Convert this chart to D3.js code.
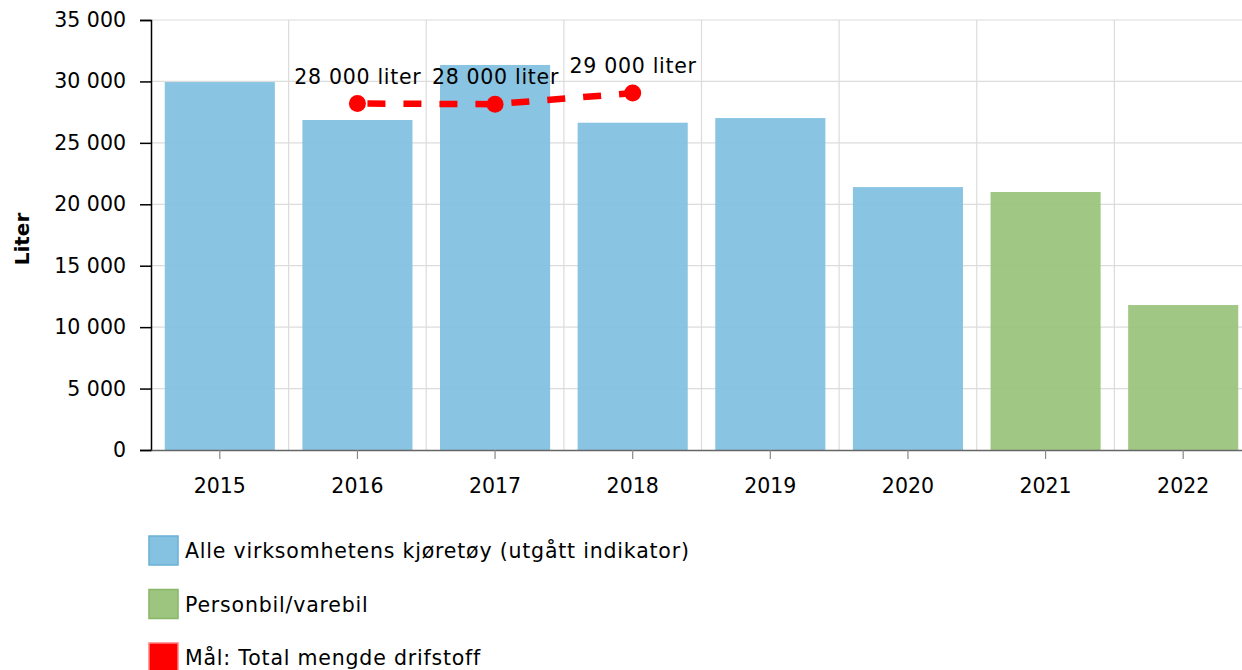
<!DOCTYPE html>
<html>
<head>
<meta charset="utf-8">
<script src="https://cdn.jsdelivr.net/npm/d3@7"></script>
<style>
  body { margin: 0; background: #fff; }
  svg { display: block; font-family: "DejaVu Sans", Verdana, sans-serif; }
</style>
</head>
<body>
<svg id="chart" width="1242" height="670"></svg>
<script>
const years = ['2015', '2016', '2017', '2018', '2019', '2020', '2021', '2022']
const allVehicles = [29950, 26860, 31340, 26640, 27020, 21400, null, null]
const carVan = [null, null, null, null, null, null, 21000, 11800]
const goalYears = ['2016', '2017', '2018']
const goalValues = [28200, 28150, 29050]
const yTicks = [0, 5000, 10000, 15000, 20000, 25000, 30000, 35000]

const legendItems = [
  { label: 'Alle virksomhetens kjøretøy (utgått indikator)', fill: '#85c2e1', stroke: '#6ab0d6' },
  { label: 'Personbil/varebil', fill: '#9dc57f', stroke: '#88b767' },
  { label: 'Mål: Total mengde drifstoff', fill: '#ff0000', stroke: '#ff8080' }
]

const svg = d3.select('#chart')
const plot = { left: 151, right: 1252, top: 20, bottom: 450 }

const x = d3.scaleBand().domain(years).range([plot.left, plot.right]).paddingInner(0.2).paddingOuter(0.1)
const y = d3.scaleLinear().domain([0, 35000]).range([plot.bottom, plot.top])
const fmt = (v) => d3.format(',')(v).replace(/,/g, ' ')

// grid
const grid = svg.append('g')
grid.selectAll('line.h').data(yTicks.filter((t) => t > 0)).join('line')
  .attr('x1', plot.left).attr('x2', 1242)
  .attr('y1', (d) => y(d)).attr('y2', (d) => y(d))
  .attr('stroke', '#dcdcdc').attr('stroke-width', 1.2)
grid.selectAll('line.v').data(years.slice(1)).join('line')
  .attr('x1', (d) => x(d) - x.step() * x.paddingInner() / 2)
  .attr('x2', (d) => x(d) - x.step() * x.paddingInner() / 2)
  .attr('y1', plot.top).attr('y2', plot.bottom)
  .attr('stroke', '#dcdcdc').attr('stroke-width', 1.2)

// bars
const drawBars = (values, color) => {
  svg.append('g').selectAll('rect')
    .data(years.map((yr, i) => ({ yr, v: values[i] })).filter((d) => d.v != null))
    .join('rect')
    .attr('x', (d) => x(d.yr))
    .attr('width', x.bandwidth())
    .attr('y', (d) => y(d.v))
    .attr('height', (d) => y(0) - y(d.v))
    .attr('fill', color)
    .attr('fill-opacity', 0.92)
}
drawBars(allVehicles, '#7fc0e0')
drawBars(carVan, '#99c279')

// y axis
const yAxis = svg.append('g')
  .attr('transform', `translate(${plot.left},0)`)
  .call(d3.axisLeft(y).tickValues(yTicks).tickFormat(fmt).tickSize(11).tickPadding(14))
yAxis.select('.domain').attr('stroke', '#000').attr('stroke-width', 1.5)
yAxis.selectAll('.tick line').attr('stroke', '#000').attr('stroke-width', 1.5)
yAxis.selectAll('text').attr('font-size', 20.5).attr('fill', '#000').attr('font-family', 'DejaVu Sans')

// x axis
const xAxis = svg.append('g')
  .attr('transform', `translate(0,${plot.bottom})`)
  .call(d3.axisBottom(x).tickSize(9).tickPadding(19).tickSizeOuter(0))
xAxis.select('.domain').attr('stroke', '#666').attr('stroke-width', 1.5)
xAxis.selectAll('.tick line').attr('stroke', '#888').attr('stroke-width', 1.2)
xAxis.selectAll('text').attr('font-size', 20.5).attr('fill', '#000').attr('font-family', 'DejaVu Sans')

// axis title
svg.append('text')
  .attr('transform', `translate(29,${(plot.top + plot.bottom) / 2 + 4}) rotate(-90)`)
  .attr('text-anchor', 'middle')
  .attr('font-size', 20)
  .attr('font-weight', 'bold')
  .text('Liter')

// goal line
const goal = goalYears.map((yr, i) => ({ yr, v: goalValues[i] }))
const gx = (d) => x(d.yr) + x.bandwidth() / 2
svg.append('path')
  .datum(goal)
  .attr('d', d3.line().x(gx).y((d) => y(d.v)))
  .attr('fill', 'none')
  .attr('stroke', '#ff0000')
  .attr('stroke-width', 6.5)
  .attr('stroke-dasharray', '18,18')
  .attr('stroke-dashoffset', -10)
svg.append('g').selectAll('circle').data(goal).join('circle')
  .attr('cx', gx).attr('cy', (d) => y(d.v)).attr('r', 8.5)
  .attr('fill', '#ff0000')
svg.append('g').selectAll('text').data(goal).join('text')
  .attr('x', (d) => gx(d) + 0.4).attr('y', (d) => y(d.v) - 20)
  .attr('text-anchor', 'middle')
  .attr('font-size', 20.5)
  .attr('letter-spacing', 0.7)
  .text((d) => `${fmt(Math.round(d.v / 1000) * 1000)} liter`)

// legend
const legend = svg.append('g').selectAll('g').data(legendItems).join('g')
  .attr('transform', (d, i) => `translate(149,${536 + i * 53.5})`)
legend.append('rect')
  .attr('width', 29).attr('height', 29)
  .attr('fill', (d) => d.fill).attr('stroke', (d) => d.stroke).attr('stroke-width', 1.5)
legend.append('text')
  .attr('x', 36).attr('y', 22)
  .attr('font-size', 20.5)
  .attr('letter-spacing', 0.8)
  .text((d) => d.label)
</script>
</body>
</html>
